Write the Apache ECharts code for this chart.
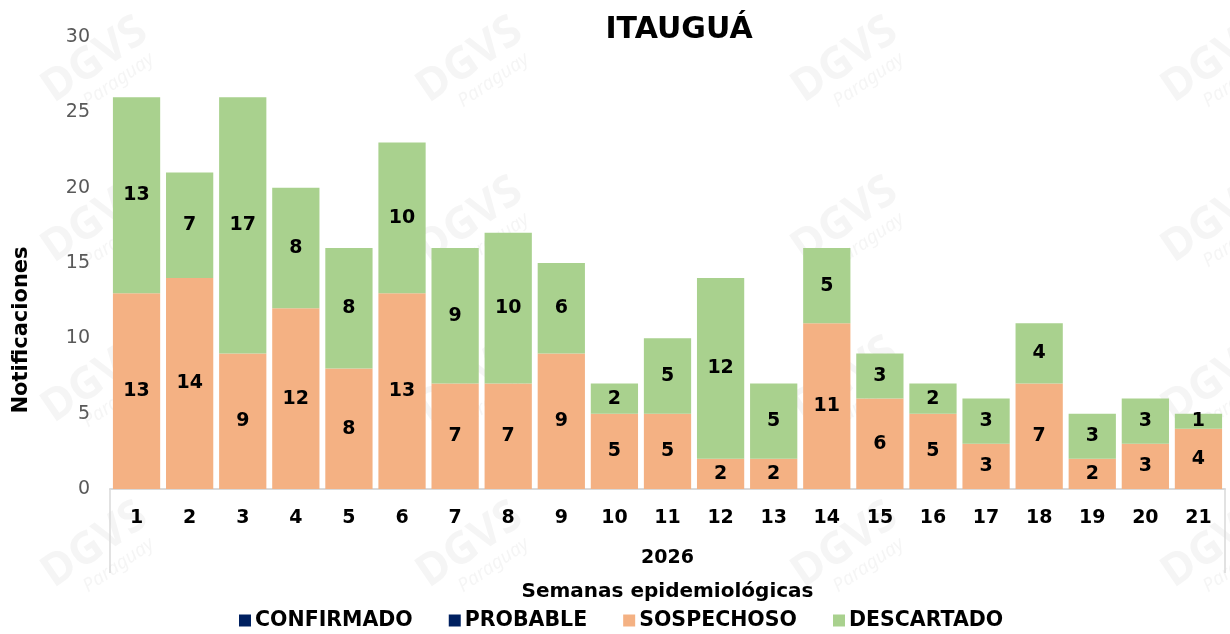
<!DOCTYPE html>
<html>
<head>
<meta charset="utf-8">
<title>ITAUGUÁ</title>
<script src="https://cdn.jsdelivr.net/npm/echarts@6/dist/echarts.min.js"></script>
<style>
  html, body { margin: 0; padding: 0; background: #ffffff; }
  #chart { width: 1230px; height: 634px; }
</style>
</head>
<body>
<div id="chart"></div>
<script>
// semanas epidemiologicas 2026
var weeks = ['1', '2', '3', '4', '5', '6', '7', '8', '9', '10', '11',
             '12', '13', '14', '15', '16', '17', '18', '19', '20', '21'];
var confirmado = [0, 0, 0, 0, 0, 0, 0, 0, 0, 0, 0, 0, 0, 0, 0, 0, 0, 0, 0, 0, 0];
var probable   = [0, 0, 0, 0, 0, 0, 0, 0, 0, 0, 0, 0, 0, 0, 0, 0, 0, 0, 0, 0, 0];
var sospechoso = [13, 14, 9, 12, 8, 13, 7, 7, 9, 5, 5, 2, 2, 11, 6, 5, 3, 7, 2, 3, 4];
var descartado = [13, 7, 17, 8, 8, 10, 9, 10, 6, 2, 5, 12, 5, 5, 3, 2, 3, 4, 3, 3, 1];
var yearLabel = ['2026'];

var FONT = '"DejaVu Sans", "Noto Sans", sans-serif';
var C = {
  confirmado: '#002060',
  probable: '#002060',
  sospechoso: '#f4b183',
  descartado: '#a9d18e',
  axis: '#d9d9d9',
  tick: '#595959'
};

// marca de agua DGVS Paraguay (decorativa, muy tenue)
function watermarks() {
  var cols = [95, 470, 845, 1215];
  var rows = [60, 220, 380, 545];
  var out = [];
  rows.forEach(function (y) {
    cols.forEach(function (x) {
      out.push({
        type: 'group',
        x: x, y: y,
        rotation: 0.6,
        silent: true,
        z: 100,
        children: [
          { type: 'text', style: { text: 'DGVS', x: 0, y: 0, align: 'center', verticalAlign: 'middle',
              font: 'bold 44px "Noto Sans"', fill: 'rgba(110,110,110,0.07)' } },
          { type: 'text', style: { text: 'Paraguay', x: 8, y: 30, align: 'center', verticalAlign: 'middle',
              font: 'italic 19px "Noto Sans"', fill: 'rgba(110,110,110,0.07)' } }
        ]
      });
    });
  });
  // titulo del eje Y, centrado sobre el area de grafico + etiquetas
  out.push({
    type: 'text',
    x: 22, y: 330,
    rotation: Math.PI / 2,
    silent: true,
    style: { text: 'Notificaciones', align: 'center', verticalAlign: 'middle',
             font: 'bold 21px ' + FONT, fill: '#000000' }
  });
  return out;
}

function barSeries(name, color, arr, showLabel) {
  return {
    name: name,
    type: 'bar',
    stack: 'total',
    xAxisIndex: 0,
    barCategoryGap: '11%',
    itemStyle: { color: color },
    label: {
      show: showLabel,
      position: 'inside',
      color: '#000000',
      fontFamily: FONT,
      fontWeight: 'bold',
      fontSize: 19,
      formatter: function (p) { return p.value ? String(p.value) : ''; }
    },
    emphasis: { disabled: true },
    data: arr
  };
}

var chart = echarts.init(document.getElementById('chart'));
chart.setOption({
  animation: false,
  textStyle: { fontFamily: FONT },
  title: {
    text: 'ITAUGUÁ',
    left: 674,
    textAlign: 'center',
    top: 10,
    textStyle: { fontFamily: FONT, fontWeight: 'bold', fontSize: 30, color: '#000000' }
  },
  grid: { left: 110, right: 5, top: 37, bottom: 145 },
  legend: {
    left: 234,
    top: 605,
    icon: 'rect',
    itemWidth: 12,
    itemHeight: 12,
    itemGap: 36,
    textStyle: { fontFamily: FONT, fontWeight: 'bold', fontSize: 20.5, color: '#000000', padding: [0, 0, 0, -1] },
    data: ['CONFIRMADO', 'PROBABLE', 'SOSPECHOSO', 'DESCARTADO']
  },
  xAxis: [
    {
      type: 'category',
      data: weeks,
      axisLine: { lineStyle: { color: C.axis, width: 2 } },
      axisTick: { show: false },
      axisLabel: { color: '#000000', fontWeight: 'bold', fontSize: 19, margin: 20, fontFamily: FONT }
    },
    {
      type: 'category',
      data: yearLabel,
      position: 'bottom',
      axisLine: { show: false },
      axisTick: { show: true, length: 84, lineStyle: { color: C.axis, width: 1.5 } },
      axisLabel: { color: '#000000', fontWeight: 'bold', fontSize: 19, margin: 60, fontFamily: FONT },
      name: 'Semanas epidemiológicas',
      nameLocation: 'middle',
      nameGap: 93,
      nameTextStyle: { color: '#000000', fontWeight: 'bold', fontSize: 20, fontFamily: FONT }
    }
  ],
  yAxis: {
    type: 'value',
    min: 0,
    max: 30,
    interval: 5,
    axisLine: { show: false },
    axisTick: { show: false },
    splitLine: { show: false },
    axisLabel: { color: C.tick, fontSize: 19, margin: 20, fontFamily: FONT }
  },
  graphic: watermarks(),
  series: [
    barSeries('CONFIRMADO', C.confirmado, confirmado, false),
    barSeries('PROBABLE', C.probable, probable, false),
    barSeries('SOSPECHOSO', C.sospechoso, sospechoso, true),
    barSeries('DESCARTADO', C.descartado, descartado, true)
  ]
});
</script>
</body>
</html>
